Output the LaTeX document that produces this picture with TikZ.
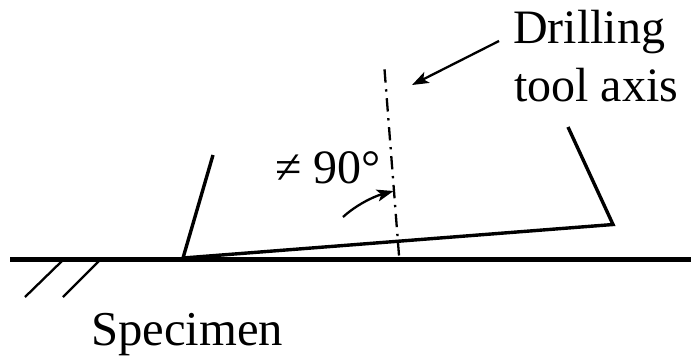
\documentclass[tikz,border=0pt]{standalone}
\usepackage{fontspec}
\setmainfont{Liberation Serif}
\usetikzlibrary{arrows.meta}
\tikzset{px/.style={x=0.75pt,y=-0.75pt},
 baseline/.style={line width=5pt*0.75,black},
 solidline/.style={line width=3.4pt*0.75,black},
 thinline/.style={line width=2.3pt*0.75,black},
 tiphead/.style={-{Stealth[length=12.5pt,width=9pt,inset=3pt]}},
 lab/.style={font=\fontsize{36}{36}\selectfont,inner sep=0pt,anchor=base west}}
\begin{document}
\begin{tikzpicture}[px]
\useasboundingbox (0,0) rectangle (691,358);
\coordinate (hl) at (10,259.5); \coordinate (hr) at (691,259.5);
\coordinate (c) at (183,258); \coordinate (tl) at (213,155);
\coordinate (tr) at (613,224.5); \coordinate (tt) at (568,127);
\draw[baseline] (hl) -- (hr);
\draw[solidline] (tl) -- (c) -- (tr) -- (tt);
\coordinate (h1a) at (25,297); \coordinate (h1b) at (62,261);
\coordinate (h2a) at (63,297); \coordinate (h2b) at (99,261);
\draw[thinline] (h1a) -- (h1b); \draw[thinline] (h2a) -- (h2b);
\coordinate (a1) at (384.5,69.3); \coordinate (a2) at (399,255.5);
\draw[thinline,dash pattern=on 10pt off 5pt on 1.75pt off 5pt] (a1) -- (a2);
\node[lab] (dr) at (513,43) {Drilling};
\node[lab] (ta) at (514,101) {tool axis};
\node[lab] (ne) at (275,183) {≠\hspace{0.25em}90°};
\node[lab,font=\fontsize{36.5}{36.5}\selectfont] (sp) at (91,345) {Specimen};
\coordinate (l1) at (499,41); \coordinate (l2) at (412,85);
\draw[thinline,tiphead] (l1) -- (l2);
\coordinate (r1) at (343,217); \coordinate (r2) at (393.5,191);
\draw[thinline,tiphead] (r1) .. controls (355,206) and (372,197) .. (r2);
\end{tikzpicture}
\end{document}
